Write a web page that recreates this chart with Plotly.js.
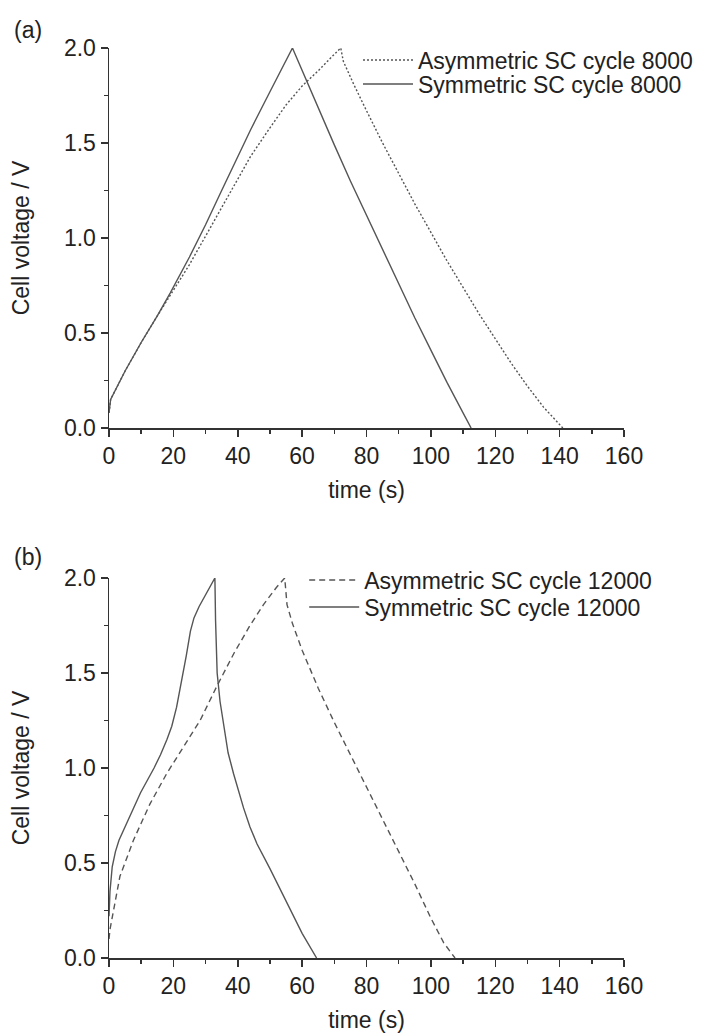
<!DOCTYPE html>
<html>
<head>
<meta charset="utf-8">
<script src="https://cdn.plot.ly/plotly-3.0.1.min.js"></script>
<style>html,body{margin:0;padding:0;background:#fff;}#chart{width:702px;height:1034px;}</style>
</head>
<body>
<div id="chart"></div>
<script>
// Panel (a): cycle 8000
const aAsymT = [0, 0.5, 5, 10, 15, 19, 25, 30, 35, 40, 44, 50, 55, 60, 65, 69, 72, 72.8, 76, 80, 85, 90, 95, 100, 105, 110, 115, 120, 125, 130, 135, 141];
const aAsymV = [0.08, 0.15, 0.30, 0.45, 0.59, 0.70, 0.86, 1.01, 1.16, 1.31, 1.43, 1.58, 1.70, 1.80, 1.88, 1.95, 2.0, 1.93, 1.81, 1.67, 1.50, 1.34, 1.18, 1.03, 0.88, 0.74, 0.60, 0.47, 0.34, 0.22, 0.11, 0.0];
const aSymT = [0, 0.5, 5, 10, 15, 19, 25, 30, 35, 40, 44, 50, 54, 57, 58, 62, 66, 70, 75, 80, 85, 90, 95, 100, 105, 110, 112.5];
const aSymV = [0.08, 0.15, 0.30, 0.45, 0.59, 0.71, 0.90, 1.07, 1.25, 1.43, 1.57, 1.77, 1.90, 2.0, 1.96, 1.80, 1.65, 1.49, 1.30, 1.12, 0.94, 0.76, 0.58, 0.41, 0.24, 0.08, 0.0];

// Panel (b): cycle 12000
const bAsymT = [0, 0.3, 3.4, 7.6, 12.7, 17.9, 23.1, 28.3, 33.5, 38.7, 43.8, 48, 52, 54.6, 55.3, 57, 60, 65, 70, 75, 80, 85, 90, 95, 100, 104, 107.5];
const bAsymV = [0.1, 0.15, 0.43, 0.62, 0.81, 0.97, 1.11, 1.25, 1.43, 1.60, 1.75, 1.86, 1.95, 2.0, 1.86, 1.76, 1.62, 1.42, 1.24, 1.07, 0.90, 0.73, 0.56, 0.39, 0.21, 0.08, 0.0];
const bSymT = [0, 0.3, 1, 2, 3.1, 5.7, 9.8, 14, 16, 18, 19.5, 21, 22.5, 24, 25.3, 26.4, 28, 30, 32.9, 33.1, 33.6, 34.5, 35.6, 37, 38.7, 40, 41.8, 43.8, 46, 50, 55, 60, 64.5];
const bSymV = [0.22, 0.35, 0.48, 0.56, 0.62, 0.72, 0.87, 1.0, 1.07, 1.15, 1.22, 1.32, 1.45, 1.59, 1.72, 1.79, 1.85, 1.91, 2.0, 1.78, 1.5, 1.35, 1.22, 1.08, 0.97, 0.89, 0.79, 0.69, 0.60, 0.47, 0.30, 0.13, 0.0];

const names = {
  aAsym: 'Asymmetric SC cycle 8000',
  aSym: 'Symmetric SC cycle 8000',
  bAsym: 'Asymmetric SC cycle 12000',
  bSym: 'Symmetric SC cycle 12000'
};
const xTickVals = [0, 20, 40, 60, 80, 100, 120, 140, 160];
const yTickVals = [0, 0.5, 1.0, 1.5, 2.0];
const yTickText = ['0.0', '0.5', '1.0', '1.5', '2.0'];

const lineColor = '#555555';
const textColor = '#222222';
const fontFam = 'Liberation Sans, Arial, sans-serif';
const fs = 23;

const traces = [
  {x: aAsymT, y: aAsymV, name: names.aAsym, mode: 'lines', xaxis: 'x', yaxis: 'y', legend: 'legend', showlegend: true,
   line: {color: lineColor, width: 1.4, dash: '2px,2px'}},
  {x: aSymT, y: aSymV, name: names.aSym, mode: 'lines', xaxis: 'x', yaxis: 'y', legend: 'legend2', showlegend: true,
   line: {color: lineColor, width: 1.4}},
  {x: bAsymT, y: bAsymV, name: names.bAsym, mode: 'lines', xaxis: 'x2', yaxis: 'y2', legend: 'legend3', showlegend: true,
   line: {color: lineColor, width: 1.4, dash: '6px,4px'}},
  {x: bSymT, y: bSymV, name: names.bSym, mode: 'lines', xaxis: 'x2', yaxis: 'y2', legend: 'legend4', showlegend: true,
   line: {color: lineColor, width: 1.4}}
];

function xAxis(anchor) {
  return {
    anchor: anchor, range: [0, 160], tickvals: xTickVals, ticktext: xTickVals.map(String),
    ticks: 'outside', ticklen: 7, tickwidth: 1.5, tickcolor: '#333',
    minor: {dtick: 10, tick0: 0, ticks: 'outside', ticklen: 4, tickwidth: 1.5, tickcolor: '#333', showgrid: false},
    showline: true, linecolor: '#333', linewidth: 1.5, showgrid: false, zeroline: false,
    tickfont: {size: fs, color: textColor, family: fontFam},
    title: {text: 'time (s)', font: {size: fs, color: textColor, family: fontFam}, standoff: 14},
    automargin: false, fixedrange: true
  };
}
function yAxis(anchor, domain) {
  return {
    anchor: anchor, domain: domain, range: [0, 2.0], tickvals: yTickVals, ticktext: yTickText,
    ticks: 'outside', ticklen: 7, tickwidth: 1.5, tickcolor: '#333',
    minor: {dtick: 0.25, tick0: 0, ticks: 'outside', ticklen: 4, tickwidth: 1.5, tickcolor: '#333', showgrid: false},
    showline: true, linecolor: '#333', linewidth: 1.5, showgrid: false, zeroline: false,
    tickfont: {size: fs, color: textColor, family: fontFam},
    title: {text: 'Cell voltage / V', font: {size: fs, color: textColor, family: fontFam}, standoff: 28},
    automargin: false, fixedrange: true
  };
}
function legendAt(x, y) {
  return {x: x, y: y, xanchor: 'left', yanchor: 'middle', bgcolor: 'rgba(0,0,0,0)',
          font: {size: fs, color: textColor, family: fontFam}, itemwidth: 50, tracegroupgap: 0};
}

const layout = {
  width: 702, height: 1034,
  showlegend: true,
  margin: {l: 108.5, r: 77.5, t: 48, b: 76, autoexpand: false},
  paper_bgcolor: '#ffffff', plot_bgcolor: '#ffffff',
  font: {family: fontFam, color: textColor, size: fs},
  xaxis: xAxis('y'),
  yaxis: yAxis('x', [0.5824, 1]),
  xaxis2: xAxis('y2'),
  yaxis2: yAxis('x2', [0, 0.4176]),
  legend: legendAt(0.4835, 0.9868),
  legend2: legendAt(0.4835, 0.9604),
  legend3: legendAt(0.379, 0.4154),
  legend4: legendAt(0.379, 0.3857),
  annotations: [
    {text: '(a)', xref: 'paper', yref: 'paper', x: -0.158, y: 1.02, xanchor: 'center', yanchor: 'middle',
     showarrow: false, font: {size: fs, color: textColor, family: fontFam}},
    {text: '(b)', xref: 'paper', yref: 'paper', x: -0.158, y: 0.4407, xanchor: 'center', yanchor: 'middle',
     showarrow: false, font: {size: fs, color: textColor, family: fontFam}}
  ]
};

Plotly.newPlot('chart', traces, layout, {displayModeBar: false, staticPlot: true});
</script>
</body>
</html>
